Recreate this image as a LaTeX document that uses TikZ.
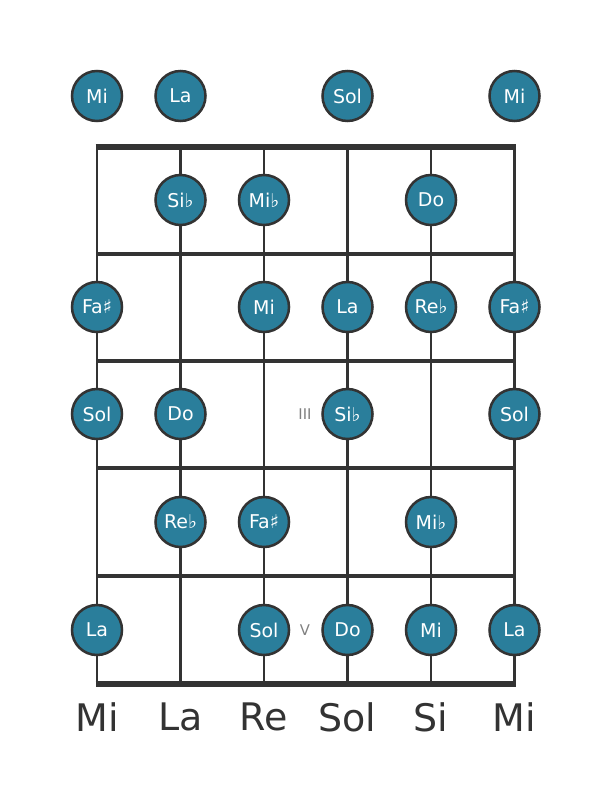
\documentclass[tikz,border=0pt]{standalone}
\usepackage{fontspec}
\setmainfont{DejaVu Sans}
\usepackage{xcolor}
\definecolor{notefill}{HTML}{2A7E9B}
\definecolor{linegray}{HTML}{333333}

\begin{document}
\begin{tikzpicture}[x=0.025cm,y=-0.025cm,
    note/.style={circle, minimum size=50*0.025cm, inner sep=0pt, draw=linegray, line width=1.8pt, fill=notefill, text=white, font=\fontsize{13.5}{15}\selectfont},
    fret/.style={linegray, line width=2.8pt},
    gstring/.style={linegray, line width=2.1pt},
    position/.style={gray, font=\fontsize{10.5}{12}\selectfont},
    tuning/.style={text=linegray, font=\fontsize{27}{30}\selectfont}]

\useasboundingbox (0,0) rectangle (611,801);

% strings
\foreach \x in {97,180.5,264,347.5,431,514.5}
  \draw[gstring] (\x,147) -- (\x,684);
% frets
\foreach \y in {254,361,468,576}
  \draw[fret] (97,\y) -- (514.5,\y);
\draw[linegray, line width=4.3pt] (95.5,147) -- (516,147);
\draw[linegray, line width=3.6pt] (95.5,684) -- (516,684);

% open strings
\node [note] (o1) at (97,96) {Mi};
\node [note] (o2) at (180.5,96) {La};
\node [note] (o4) at (347.5,96) {Sol};
\node [note] (o6) at (514.5,96) {Mi};

% fret 1
\node [note] (a2) at (180.5,200) {Si♭};
\node [note] (a3) at (264,200) {Mi♭};
\node [note] (a5) at (431,200) {Do};

% fret 2
\node [note] (b1) at (97,307) {Fa♯};
\node [note] (b3) at (264,307) {Mi};
\node [note] (b4) at (347.5,307) {La};
\node [note] (b5) at (431,307) {Re♭};
\node [note] (b6) at (514.5,307) {Fa♯};

% fret 3
\node [note] (c1) at (97,414) {Sol};
\node [note] (c2) at (180.5,414) {Do};
\node [note] (c4) at (347.5,414) {Si♭};
\node [note] (c6) at (514.5,414) {Sol};
\node [position] (III) at (305,414) {III};

% fret 4
\node [note] (d2) at (180.5,522) {Re♭};
\node [note] (d3) at (264,522) {Fa♯};
\node [note] (d5) at (431,522) {Mi♭};

% fret 5
\node [note] (e1) at (97,630) {La};
\node [note] (e3) at (264,630) {Sol};
\node [note] (e4) at (347.5,630) {Do};
\node [note] (e5) at (431,630) {Mi};
\node [note] (e6) at (514.5,630) {La};
\node [position] (V) at (305,630) {V};

% tuning
\node [tuning] (t1) at (97,717) {Mi};
\node [tuning] (t2) at (180.5,717) {La};
\node [tuning] (t3) at (264,717) {Re};
\node [tuning] (t4) at (347.5,717) {Sol};
\node [tuning] (t5) at (431,717) {Si};
\node [tuning] (t6) at (514.5,717) {Mi};
\end{tikzpicture}
\end{document}
